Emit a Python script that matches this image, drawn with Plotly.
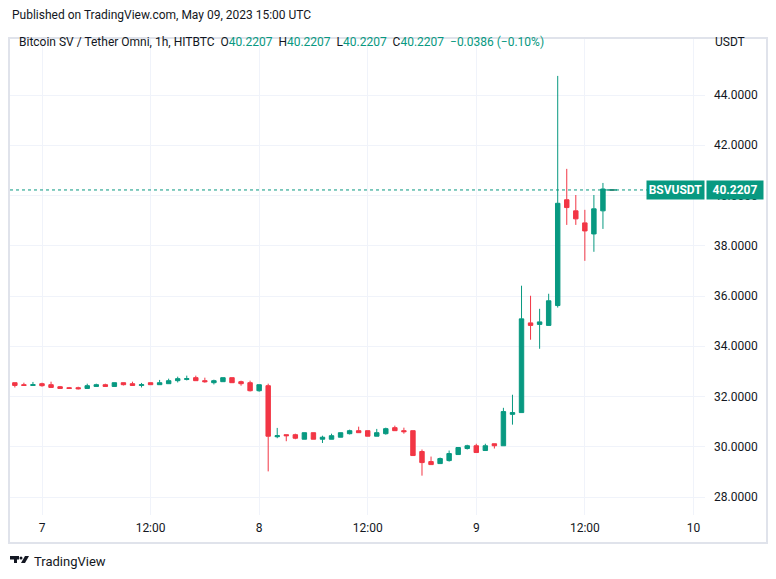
import plotly.graph_objects as go
import pandas as pd

# ---- data ----
start_time = "2023-05-06 21:00"
opens = [32.55, 32.47, 32.44, 32.51, 32.47, 32.39, 32.35, 32.35, 32.32, 32.40,
         32.47, 32.40, 32.55, 32.51, 32.44, 32.55, 32.47, 32.51, 32.63, 32.68,
         32.75, 32.63, 32.55, 32.59, 32.75, 32.59, 32.55, 32.23, 32.43, 30.40,
         30.48, 30.48, 30.30, 30.56, 30.30, 30.30, 30.38, 30.52, 30.64, 30.64,
         30.42, 30.52, 30.76, 30.64, 30.64, 29.81, 29.41, 29.33, 29.45, 29.69,
         29.93, 30.04, 29.85, 30.12, 30.04, 31.29, 31.36, 34.93, 34.87, 34.83,
         35.62, 39.83, 39.39, 38.91, 38.47, 39.39, 40.2207]
highs = [32.55, 32.55, 32.58, 32.55, 32.59, 32.42, 32.38, 32.39, 32.51, 32.51,
         32.51, 32.55, 32.55, 32.59, 32.54, 32.55, 32.66, 32.71, 32.79, 32.83,
         32.83, 32.75, 32.67, 32.75, 32.75, 32.63, 32.63, 32.47, 32.51, 30.75,
         30.48, 30.52, 30.56, 30.56, 30.44, 30.52, 30.56, 30.68, 30.80, 30.64,
         30.71, 30.76, 30.84, 30.76, 30.64, 29.89, 29.61, 29.57, 29.85, 29.97,
         30.08, 30.12, 30.12, 30.12, 31.55, 32.07, 36.41, 36.01, 35.49, 36.09,
         44.76, 41.06, 40.02, 39.43, 40.02, 40.50, 40.2207]
lows = [32.36, 32.44, 32.42, 32.39, 32.36, 32.32, 32.31, 32.28, 32.32, 32.40,
        32.40, 32.40, 32.44, 32.44, 32.36, 32.47, 32.47, 32.51, 32.56, 32.64,
        32.63, 32.55, 32.48, 32.59, 32.55, 32.43, 32.20, 32.19, 29.02, 30.34,
        30.22, 30.30, 30.30, 30.30, 30.15, 30.30, 30.38, 30.49, 30.56, 30.42,
        30.42, 30.48, 30.64, 30.52, 29.65, 28.85, 29.29, 29.33, 29.41, 29.69,
        29.89, 29.77, 29.85, 29.93, 30.04, 30.88, 31.36, 34.26, 33.90, 34.83,
        35.54, 38.83, 38.83, 37.40, 37.76, 38.67, 40.2207]
closes = [32.44, 32.44, 32.47, 32.43, 32.36, 32.32, 32.32, 32.31, 32.43, 32.47,
          32.40, 32.55, 32.47, 32.44, 32.47, 32.47, 32.55, 32.63, 32.71, 32.71,
          32.63, 32.59, 32.63, 32.75, 32.55, 32.51, 32.23, 32.47, 30.42, 30.44,
          30.44, 30.34, 30.56, 30.30, 30.38, 30.44, 30.56, 30.64, 30.56, 30.42,
          30.56, 30.72, 30.64, 30.60, 29.65, 29.37, 29.29, 29.53, 29.73, 29.97,
          30.04, 29.77, 30.04, 30.04, 31.40, 31.36, 35.09, 34.83, 34.97, 35.81,
          39.69, 39.52, 39.07, 38.59, 39.47, 40.2593, 40.2207]
last_price = 40.2207
tick_times = ["2023-05-07 00:00", "2023-05-07 12:00", "2023-05-08 00:00",
              "2023-05-08 12:00", "2023-05-09 00:00", "2023-05-09 12:00",
              "2023-05-10 00:00"]
tick_labels = ["7", "12:00", "8", "12:00", "9", "12:00", "10"]
price_ticks = [28, 30, 32, 34, 36, 38, 40, 42, 44]

times = pd.date_range(start_time, periods=len(opens), freq="h")

GREEN = "#089981"
RED = "#F23645"
TXT = "#131722"
FONT = "Roboto"

OFF = 8  # page body margin of the html page
W, H = 776 - OFF, 579 - OFF
ML, MR, MT, MB = 10 - OFF, 71, 39 - OFF, 64
PW = W - ML - MR
PH = H - MT - MB


def px(xp):
    """reference pixel x -> paper x"""
    return (xp - OFF - ML) / PW


def py(yp):
    """reference pixel y -> paper y"""
    return (H - MB - (yp - OFF)) / PH


fig = go.Figure()
fig.add_trace(go.Candlestick(
    x=times, open=opens, high=highs, low=lows, close=closes,
    increasing=dict(line=dict(color=GREEN, width=1), fillcolor=GREEN),
    decreasing=dict(line=dict(color=RED, width=1), fillcolor=RED),
    whiskerwidth=0, showlegend=False, hoverinfo="skip",
))
# last (flat) bar drawn in green
fig.add_trace(go.Scatter(
    x=[times[-1]], y=[closes[-1]], mode="markers",
    marker=dict(symbol="line-ew", size=7, line=dict(color=GREEN, width=1.5)),
    showlegend=False, hoverinfo="skip",
))

shapes = []
# frame
shapes.append(dict(type="rect", xref="paper", yref="paper",
                   x0=px(9), x1=px(767), y0=py(543), y1=py(38),
                   line=dict(color="#e0e3eb", width=2), layer="below"))
# price line
shapes.append(dict(type="line", xref="paper", yref="y", x0=0, x1=1,
                   y0=last_price, y1=last_price,
                   line=dict(color=GREEN, width=1, dash="dot")))
# TradingView logo
logo = ("M {a},{b} L {c},{b} L {c},{d} L {e},{d} L {e},{f} L {g},{f} L {g},{d} L {a},{d} Z"
        .format(a=px(10), b=py(556), c=px(19), d=py(559.5), e=px(17), f=py(563), g=px(14)))
shapes.append(dict(type="path", xref="paper", yref="paper", path=logo,
                   fillcolor=TXT, line=dict(width=0)))
shapes.append(dict(type="circle", xref="paper", yref="paper",
                   x0=px(19.5), x1=px(22.5), y0=py(559.5), y1=py(556.5),
                   fillcolor=TXT, line=dict(width=0)))
slant = ("M {a},{b} L {c},{b} L {d},{e} L {f},{e} Z"
         .format(a=px(25), b=py(556), c=px(29), d=px(25), e=py(563), f=px(21)))
shapes.append(dict(type="path", xref="paper", yref="paper", path=slant,
                   fillcolor=TXT, line=dict(width=0)))

v = "{:.4f}".format
chg = closes[-1] - closes[-2]
pct = chg / closes[-2] * 100
legend_txt = ("Bitcoin SV / Tether Omni, 1h, HITBTC  "
              "O<span style='color:%s'>%s</span>  H<span style='color:%s'>%s</span>  "
              "L<span style='color:%s'>%s</span>  C<span style='color:%s'>%s</span>  "
              "<span style='color:%s'>%s (%s%%)</span>") % (
    GREEN, v(opens[-1]), GREEN, v(highs[-1]), GREEN, v(lows[-1]), GREEN, v(closes[-1]),
    GREEN, ("−" if chg < 0 else "+") + "{:.4f}".format(abs(chg)),
    ("−" if pct < 0 else "+") + "{:.2f}".format(abs(pct)))

annotations = [
    dict(text="Published on TradingView.com, May 09, 2023 15:00 UTC", xref="paper", yref="paper",
         x=px(10), y=py(15), xanchor="left", yanchor="middle", showarrow=False,
         font=dict(family=FONT, size=12, color=TXT)),
    dict(text=legend_txt, xref="paper", yref="paper", x=px(17), y=py(42),
         xanchor="left", yanchor="middle", showarrow=False,
         font=dict(family=FONT, size=12, color=TXT)),
    dict(text="USDT", xref="paper", yref="paper", x=px(730), y=py(42),
         xanchor="center", yanchor="middle", showarrow=False,
         font=dict(family=FONT, size=12, color=TXT)),
    dict(text="TradingView", xref="paper", yref="paper", x=px(32), y=py(561),
         xanchor="left", yanchor="middle", showarrow=False,
         font=dict(family=FONT, size=13, color=TXT)),
    dict(text="<b>BSVUSDT</b>", xref="paper", yref="y", x=px(705), y=last_price,
         xanchor="right", yanchor="middle", showarrow=False, bgcolor=GREEN,
         borderpad=2, width=53, height=14,
         font=dict(family=FONT, size=12, color="white")),
    dict(text="<b>" + v(last_price) + "</b>", xref="paper", yref="y", x=px(706), y=last_price,
         xanchor="left", yanchor="middle", showarrow=False, bgcolor=GREEN,
         borderpad=2, width=52, height=14,
         font=dict(family=FONT, size=12, color="white")),
]

fig.update_layout(
    width=W, height=H,
    margin=dict(l=ML, r=MR, t=MT, b=MB),
    paper_bgcolor="white", plot_bgcolor="white",
    font=dict(family=FONT, size=12, color=TXT),
    shapes=shapes, annotations=annotations,
    showlegend=False,
    xaxis=dict(
        type="date", rangeslider=dict(visible=False),
        range=["2023-05-06 20:27:48", "2023-05-10 01:16:48"],
        tickmode="array", tickvals=tick_times, ticktext=tick_labels,
        showgrid=True, gridcolor="#f0f3fa", gridwidth=1,
        zeroline=False, showline=False, ticks="",
        tickfont=dict(family=FONT, size=12, color=TXT),
        ticklabelstandoff=4,
    ),
    yaxis=dict(
        side="right", range=[27.284, 46.229],
        tickmode="array", tickvals=price_ticks,
        ticktext=[v(p) for p in price_ticks],
        showgrid=True, gridcolor="#f0f3fa", gridwidth=1,
        zeroline=False, showline=False, ticks="",
        tickfont=dict(family=FONT, size=12, color=TXT),
        ticklabelstandoff=8,
    ),
)

fig.write_html("out.html")
